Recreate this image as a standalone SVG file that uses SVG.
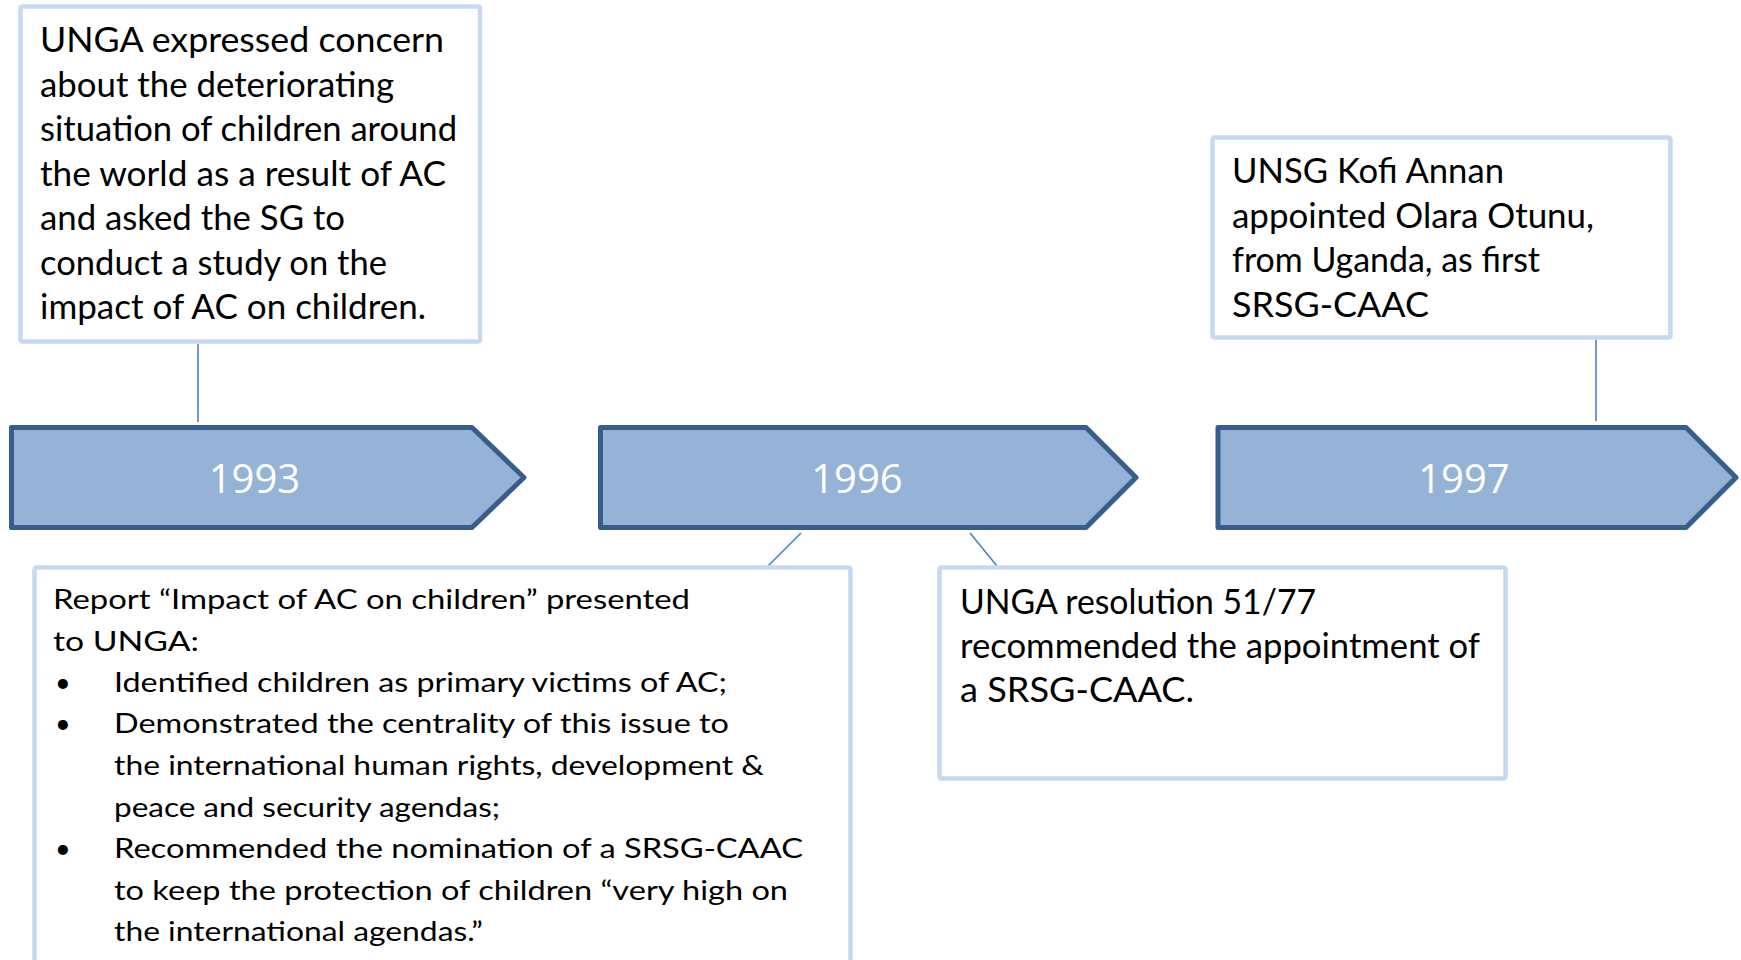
<svg xmlns="http://www.w3.org/2000/svg" width="1741" height="960" viewBox="0 0 1741 960">
<style>
.box{fill:#ffffff;stroke:#c6d9f1;stroke-width:4.5}
.arrow{fill:#95b3d7;stroke:#385d8a;stroke-width:5;stroke-linejoin:round}
.yr{font-family:"Open Sans","Noto Sans",sans-serif;font-size:40px;fill:#ffffff;text-anchor:middle}
.t{font-family:Lato,"Liberation Sans",sans-serif;font-size:35px;fill:#000000}
.s{font-family:Lato,"Liberation Sans",sans-serif;font-size:27px;fill:#000000}
.conn line{stroke:#4f81bd;stroke-width:1.6}
</style>
<rect width="1741" height="960" fill="#ffffff"/>
<g id="connectors" class="conn">
<line x1="198" y1="344" x2="198" y2="422"/>
<line x1="1596" y1="340" x2="1596" y2="421"/>
<line x1="801" y1="533" x2="768" y2="566"/>
<line x1="970" y1="533" x2="997" y2="566"/>
</g>
<g id="box1993">
<rect class="box" x="20.5" y="6.5" width="459.5" height="335" rx="2"/>
<text class="t" x="40" y="52" textLength="404" lengthAdjust="spacingAndGlyphs">UNGA expressed concern</text>
<text class="t" x="40" y="96.5" textLength="354" lengthAdjust="spacingAndGlyphs">about the deteriorating</text>
<text class="t" x="40" y="141" textLength="417" lengthAdjust="spacingAndGlyphs">situation of children around</text>
<text class="t" x="40" y="185.5" textLength="406" lengthAdjust="spacingAndGlyphs">the world as a result of AC</text>
<text class="t" x="40" y="230" textLength="305" lengthAdjust="spacingAndGlyphs">and asked the SG to</text>
<text class="t" x="40" y="274.5" textLength="347" lengthAdjust="spacingAndGlyphs">conduct a study on the</text>
<text class="t" x="40" y="319" textLength="386" lengthAdjust="spacingAndGlyphs">impact of AC on children.</text>
</g>
<g id="y1993">
<path class="arrow" d="M11.5,427.5 H472 L524,477.5 L472,527.5 H11.5 Z"/>
<text class="yr" x="254.5" y="493">1993</text>
</g>
<g id="y1996">
<path class="arrow" d="M600.5,427.5 H1086 L1136,477.5 L1086,527.5 H600.5 Z"/>
<text class="yr" x="857" y="493">1996</text>
</g>
<g id="y1997">
<path class="arrow" d="M1218,427.5 H1686 L1736,477.5 L1686,527.5 H1218 Z"/>
<text class="yr" x="1464" y="493">1997</text>
</g>
<g id="box1997">
<rect class="box" x="1212.5" y="137.5" width="458" height="200" rx="2"/>
<text class="t" x="1232" y="183" textLength="272" lengthAdjust="spacingAndGlyphs">UNSG Kofi Annan</text>
<text class="t" x="1232" y="228" textLength="362" lengthAdjust="spacingAndGlyphs">appointed Olara Otunu,</text>
<text class="t" x="1232" y="272" textLength="308" lengthAdjust="spacingAndGlyphs">from Uganda, as first</text>
<text class="t" x="1232" y="317" textLength="197" lengthAdjust="spacingAndGlyphs">SRSG-CAAC</text>
</g>
<g id="box1996report">
<rect class="box" x="34.5" y="567.5" width="816" height="410" rx="2"/>
<text class="s" x="53" y="609" textLength="637" lengthAdjust="spacingAndGlyphs">Report “Impact of AC on children” presented</text>
<text class="s" x="53" y="651" textLength="146" lengthAdjust="spacingAndGlyphs">to UNGA:</text>
<text class="s" x="55" y="692">•</text>
<text class="s" x="114" y="692" textLength="613" lengthAdjust="spacingAndGlyphs">Identified children as primary victims of AC;</text>
<text class="s" x="55" y="733">•</text>
<text class="s" x="114" y="733" textLength="615" lengthAdjust="spacingAndGlyphs">Demonstrated the centrality of this issue to</text>
<text class="s" x="114" y="775" textLength="650" lengthAdjust="spacingAndGlyphs">the international human rights, development &amp;</text>
<text class="s" x="114" y="817" textLength="386" lengthAdjust="spacingAndGlyphs">peace and security agendas;</text>
<text class="s" x="55" y="858">•</text>
<text class="s" x="114" y="858" textLength="689" lengthAdjust="spacingAndGlyphs">Recommended the nomination of a SRSG-CAAC</text>
<text class="s" x="114" y="900" textLength="674" lengthAdjust="spacingAndGlyphs">to keep the protection of children “very high on</text>
<text class="s" x="114" y="941" textLength="369" lengthAdjust="spacingAndGlyphs">the international agendas.”</text>
</g>
<g id="box1996resolution">
<rect class="box" x="939.5" y="567.5" width="566" height="211" rx="2"/>
<text class="t" x="960" y="614" textLength="356" lengthAdjust="spacingAndGlyphs">UNGA resolution 51/77</text>
<text class="t" x="960" y="658" textLength="520" lengthAdjust="spacingAndGlyphs">recommended the appointment of</text>
<text class="t" x="960" y="702" textLength="234" lengthAdjust="spacingAndGlyphs">a SRSG-CAAC.</text>
</g>
</svg>
